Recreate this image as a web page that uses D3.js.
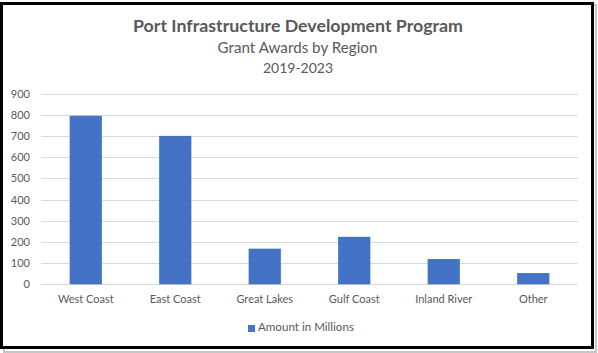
<!DOCTYPE html>
<html>
<head>
<meta charset="utf-8">
<script src="https://cdn.jsdelivr.net/npm/d3@7"></script>
<style>
  html, body { margin: 0; padding: 0; background: #fff; }
  text { font-family: Lato, 'Open Sans', sans-serif; }
</style>
</head>
<body>
<div id="chart"></div>
<script>
var regions = ['West Coast', 'East Coast', 'Great Lakes', 'Gulf Coast', 'Inland River', 'Other'];
var amounts = [795, 700, 168, 224, 119, 53];
var yTicks = [0, 100, 200, 300, 400, 500, 600, 700, 800, 900];
var seriesName = 'Amount in Millions';
var titleLines = ['Port Infrastructure Development Program', 'Grant Awards by Region', '2019-2023'];

var width = 598,
    height = 353;
var plot = { left: 41, right: 578, top: 93.5, bottom: 284.3 };

var barColor = '#4472c4',
    textColor = '#595959',
    gridColor = '#d9d9d9';

var svg = d3.select('#chart')
    .append('svg')
        .attr('width', width)
        .attr('height', height);

// frame with a faint shadow
svg.append('rect')
    .attr('x', 4).attr('y', 5)
    .attr('width', 592).attr('height', 347)
    .style('fill', 'none')
    .style('stroke', '#c8c8c8')
    .style('stroke-width', 2);
svg.append('rect')
    .attr('x', 1.5).attr('y', 3.5)
    .attr('width', 591).attr('height', 344)
    .style('fill', '#fff')
    .style('stroke', '#000')
    .style('stroke-width', 3);

var x = d3.scaleBand()
    .domain(regions)
    .range([plot.left, plot.right])
    .paddingInner(0.64)
    .paddingOuter(0.32);

var y = d3.scaleLinear()
    .domain([0, 900])
    .range([plot.bottom, plot.top]);

// gridlines
svg.append('g')
    .selectAll('line')
    .data(yTicks)
    .enter().append('line')
    .attr('x1', plot.left)
    .attr('x2', plot.right)
    .attr('y1', function(d) { return Math.round(y(d)) + 0.5; })
    .attr('y2', function(d) { return Math.round(y(d)) + 0.5; })
    .style('stroke', gridColor)
    .style('stroke-width', 1);

// y axis labels
var yAxis = svg.append('g')
    .attr('transform', 'translate(' + 30 + ',0)')
    .call(d3.axisLeft(y).tickValues(yTicks).tickSize(0).tickPadding(0));
yAxis.select('.domain').remove();
yAxis.selectAll('text')
    .style('font-size', '11px')
    .style('font-family', 'Lato, sans-serif')
    .style('fill', textColor);

// bars
svg.append('g')
    .selectAll('rect')
    .data(amounts)
    .enter().append('rect')
    .attr('x', function(d, i) { return x(regions[i]); })
    .attr('y', function(d) { return y(d); })
    .attr('width', x.bandwidth())
    .attr('height', function(d) { return y(0) - y(d); })
    .style('fill', barColor);

// x axis labels
var xAxis = svg.append('g')
    .attr('transform', 'translate(0,' + 295 + ')')
    .call(d3.axisBottom(x).tickSize(0).tickPadding(0));
xAxis.select('.domain').remove();
xAxis.selectAll('text')
    .style('font-size', '11px')
    .style('font-family', 'Lato, sans-serif')
    .style('fill', textColor);

// titles
svg.append('text')
    .attr('x', 298)
    .attr('y', 32)
    .attr('text-anchor', 'middle')
    .attr('textLength', 330)
    .attr('lengthAdjust', 'spacingAndGlyphs')
    .style('font-size', '17.5px')
    .style('font-weight', 'bold')
    .style('fill', textColor)
    .text(titleLines[0]);
svg.append('text')
    .attr('x', 297.5)
    .attr('y', 53)
    .attr('text-anchor', 'middle')
    .style('font-size', '15.2px')
    .style('fill', textColor)
    .text(titleLines[1]);
svg.append('text')
    .attr('x', 298)
    .attr('y', 73)
    .attr('text-anchor', 'middle')
    .style('font-size', '14px')
    .style('fill', textColor)
    .text(titleLines[2]);

// legend
svg.append('rect')
    .attr('x', 248)
    .attr('y', 325)
    .attr('width', 7)
    .attr('height', 7)
    .style('fill', barColor);
svg.append('text')
    .attr('x', 258)
    .attr('y', 331)
    .style('font-size', '11.6px')
    .style('fill', textColor)
    .text(seriesName);
</script>
</body>
</html>
